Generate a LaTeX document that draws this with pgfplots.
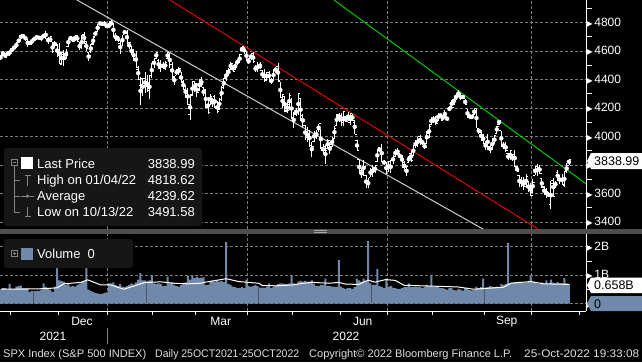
\documentclass[border=0pt]{standalone}
\usepackage{pgfplots}
\pgfplotsset{compat=1.18}
\usepackage{pgfplotstable}
\usepackage{graphicx}
\usepackage{fontspec}
\setmainfont{Liberation Sans}
\newfontfamily\dejavu{DejaVu Sans}
\definecolor{volblue}{RGB}{112,136,170}
\definecolor{gridgray}{RGB}{125,125,125}
\definecolor{legbg}{RGB}{22,22,22}
\definecolor{sepgray}{RGB}{78,78,78}
\definecolor{trwhite}{RGB}{205,205,205}
\definecolor{trred}{RGB}{220,0,0}
\definecolor{trgreen}{RGB}{0,200,0}
\definecolor{icongray}{RGB}{130,130,130}
\newcommand{\tri}{{\dejavu\fontsize{8}{8}\selectfont ▶}\hspace{1.5pt}}
\pgfplotstableread{
o h l c v
4553.7 4572.6 4537.4 4566.5 0.50
4578.7 4598.5 4569.2 4574.8 0.55
4580.2 4584.6 4551.7 4551.7 0.55
4562.8 4597.6 4562.8 4596.4 0.50
4572.9 4608.1 4567.6 4605.4 0.70
4610.6 4620.3 4595.1 4613.7 0.52
4613.3 4635.2 4613.3 4630.7 0.52
4630.7 4663.5 4621.2 4660.6 0.60
4662.9 4683.0 4662.6 4680.1 0.62
4699.3 4718.5 4681.3 4697.5 0.64
4701.5 4714.9 4694.4 4701.7 0.55
4707.3 4708.5 4670.9 4685.3 0.55
4670.3 4684.9 4630.9 4646.7 0.56
4659.4 4664.6 4648.3 4649.3 0.42
4655.2 4688.5 4650.8 4682.9 0.45
4689.3 4697.4 4672.9 4682.8 0.44
4679.4 4714.9 4679.4 4700.9 0.45
4701.5 4701.5 4684.4 4688.7 0.45
4700.7 4708.8 4672.8 4704.5 0.50
4708.4 4717.8 4694.2 4698.0 0.72
4712.0 4743.8 4682.2 4682.9 0.58
4678.5 4699.4 4652.7 4690.7 0.56
4675.8 4702.9 4659.9 4701.5 0.50
4664.6 4664.6 4585.4 4594.6 0.42
4628.8 4672.9 4625.3 4655.3 0.60
4640.3 4646.0 4560.0 4567.0 1.58
4602.8 4652.9 4510.3 4513.0 0.82
4504.7 4595.5 4504.7 4577.1 0.80
4589.5 4608.0 4495.1 4538.4 0.78
4548.4 4612.6 4540.5 4591.7 0.66
4631.0 4694.0 4631.0 4686.8 0.70
4690.9 4705.1 4674.5 4701.2 0.60
4691.0 4695.3 4665.9 4667.5 0.62
4687.6 4713.6 4670.2 4712.0 0.60
4710.3 4710.3 4667.6 4669.0 0.66
4642.0 4660.5 4606.5 4634.1 0.70
4636.5 4712.6 4611.2 4709.9 0.76
4719.1 4731.9 4651.9 4668.7 0.80
4652.5 4672.0 4597.6 4620.6 2.14
4587.9 4591.3 4531.1 4568.0 0.50
4594.9 4651.1 4583.2 4649.2 0.45
4650.4 4697.7 4645.5 4696.6 0.42
4703.1 4740.7 4703.1 4725.8 0.38
4734.0 4791.5 4734.0 4791.2 0.36
4795.5 4807.0 4780.0 4786.4 0.35
4788.6 4804.1 4778.1 4793.1 0.35
4794.2 4808.9 4775.3 4778.7 0.38
4775.2 4786.8 4765.8 4766.2 0.40
4778.1 4796.6 4758.2 4796.6 0.72
4804.5 4818.6 4774.3 4793.5 0.72
4788.0 4797.7 4699.4 4700.6 0.75
4693.4 4725.0 4671.3 4696.1 0.66
4697.7 4707.9 4663.0 4677.0 0.62
4655.3 4673.0 4582.2 4670.3 0.70
4669.1 4714.1 4638.3 4713.1 0.60
4728.6 4749.0 4716.1 4726.4 0.58
4733.6 4744.1 4650.3 4659.0 0.62
4638.0 4665.1 4614.8 4662.9 0.66
4632.2 4632.2 4568.7 4577.1 0.72
4588.0 4611.6 4530.2 4532.8 0.68
4547.4 4602.1 4478.0 4482.7 0.75
4471.4 4494.5 4395.3 4397.9 0.85
4356.3 4417.4 4222.6 4410.1 1.08
4366.6 4411.0 4287.1 4356.5 0.82
4408.4 4453.2 4304.8 4349.9 0.82
4380.6 4428.7 4309.5 4326.5 0.80
4336.2 4432.7 4264.7 4431.9 0.82
4431.8 4516.9 4414.0 4515.6 1.00
4519.6 4550.5 4484.0 4546.5 0.72
4566.4 4595.3 4544.3 4589.4 0.70
4535.4 4542.9 4470.4 4477.4 0.72
4482.8 4540.0 4451.5 4500.5 0.70
4505.8 4521.9 4471.5 4483.9 0.62
4480.0 4531.3 4465.4 4521.5 0.63
4547.0 4590.0 4547.0 4587.2 0.95
4553.2 4588.9 4484.3 4504.1 0.72
4506.3 4526.3 4401.4 4418.6 0.75
4412.6 4426.2 4364.8 4401.7 0.65
4429.3 4472.8 4429.3 4471.1 0.62
4455.8 4489.5 4429.7 4475.0 0.60
4456.1 4456.1 4373.8 4380.3 0.65
4384.6 4394.6 4327.2 4348.9 0.70
4332.7 4362.1 4267.1 4304.8 0.75
4324.9 4341.5 4221.5 4225.5 0.98
4155.8 4294.7 4114.7 4288.7 0.85
4298.4 4385.3 4286.8 4384.7 1.00
4354.2 4388.8 4315.1 4373.9 0.90
4363.1 4378.5 4279.5 4306.3 0.95
4322.6 4401.5 4322.6 4386.5 0.90
4401.3 4416.8 4345.6 4363.5 0.92
4342.1 4342.1 4285.0 4328.9 0.93
4327.0 4327.0 4199.9 4201.1 0.66
4202.7 4276.9 4157.9 4170.7 0.66
4223.1 4299.4 4223.1 4277.9 0.80
4252.6 4268.3 4209.8 4259.5 0.80
4279.5 4291.0 4200.5 4204.3 0.78
4202.8 4247.6 4161.7 4173.1 0.80
4188.8 4271.1 4187.9 4262.5 0.78
4288.1 4358.0 4252.0 4357.9 0.80
4345.1 4412.7 4335.7 4411.7 0.76
4407.3 4465.4 4390.6 4463.1 2.17
4462.4 4481.8 4424.3 4461.2 0.70
4469.1 4522.0 4469.1 4511.6 0.66
4493.1 4501.1 4455.8 4456.2 0.60
4470.0 4520.6 4465.2 4520.2 0.58
4522.7 4546.0 4501.1 4543.1 0.55
4541.1 4575.7 4517.7 4575.5 0.55
4602.9 4637.3 4589.7 4631.6 0.58
4624.2 4627.8 4581.3 4602.5 0.55
4599.0 4603.1 4530.4 4530.4 0.85
4540.3 4548.7 4507.6 4545.9 0.62
4548.0 4583.5 4539.2 4582.6 0.60
4572.5 4593.5 4514.2 4525.1 0.62
4494.2 4503.9 4450.0 4481.2 0.66
4474.7 4521.2 4450.3 4500.2 0.62
4494.2 4520.4 4474.6 4488.3 0.57
4462.6 4464.3 4408.4 4412.5 0.57
4437.6 4471.0 4381.3 4397.5 0.56
4394.3 4453.9 4392.7 4446.6 0.60
4449.1 4460.5 4390.8 4392.6 0.72
4385.6 4410.3 4370.3 4391.7 0.56
4390.6 4471.0 4390.6 4462.2 0.60
4472.3 4488.3 4448.8 4459.5 0.64
4489.2 4512.9 4384.5 4393.7 0.70
4385.8 4385.8 4267.6 4271.8 0.72
4255.3 4299.0 4200.8 4296.1 0.72
4278.1 4278.1 4175.0 4175.2 0.70
4186.5 4240.7 4162.9 4184.0 0.70
4222.6 4308.5 4188.6 4287.5 0.72
4253.8 4269.7 4124.3 4131.9 0.98
4130.6 4169.8 4062.5 4155.4 0.72
4159.8 4200.1 4147.1 4175.5 0.70
4181.2 4307.7 4148.9 4300.2 0.78
4270.4 4270.4 4106.0 4146.9 0.80
4128.2 4157.7 4067.9 4123.3 0.78
4081.3 4081.3 3975.5 3991.2 0.80
4035.2 4068.8 3958.2 4001.1 0.78
3990.1 4049.1 3928.8 3935.2 0.78
3903.9 3964.8 3858.9 3930.1 0.82
3963.9 4038.9 3963.9 4023.9 0.70
4013.0 4046.5 3984.0 4008.0 0.62
4052.0 4090.7 4033.9 4088.9 0.62
4052.0 4052.0 3911.9 3923.7 0.66
3899.0 3946.0 3876.6 3900.8 0.66
3927.8 3943.4 3810.3 3901.4 0.88
3919.4 3981.9 3909.0 3973.8 0.62
3942.9 3955.7 3875.1 3941.5 0.62
3929.6 3999.3 3925.0 3978.7 0.60
3984.6 4075.1 3984.6 4057.8 0.60
4077.4 4158.5 4077.4 4158.2 0.58
4151.1 4168.3 4104.9 4132.2 1.53
4149.8 4166.5 4073.9 4101.2 0.60
4095.4 4177.5 4074.4 4176.8 0.56
4137.6 4142.7 4098.7 4108.5 0.52
4134.7 4168.8 4109.2 4121.4 0.55
4096.5 4164.9 4080.2 4160.7 0.55
4147.1 4160.1 4107.2 4115.8 0.52
4101.7 4119.1 4017.2 4017.8 0.58
3974.4 3974.4 3900.2 3900.9 0.88
3838.2 3838.2 3734.3 3749.6 0.82
3763.5 3778.2 3705.7 3735.5 0.78
3764.0 3837.6 3722.3 3790.0 0.88
3728.2 3728.2 3639.8 3666.8 0.80
3665.9 3707.7 3636.9 3674.8 2.20
3715.3 3779.7 3715.3 3764.8 0.72
3733.9 3801.8 3717.7 3759.9 0.66
3774.7 3802.6 3743.5 3795.7 0.66
3821.8 3913.7 3821.8 3911.7 1.23
3920.8 3927.7 3889.7 3900.1 0.62
3913.0 3945.9 3820.1 3821.6 0.58
3825.1 3836.5 3799.0 3818.8 0.55
3786.0 3819.0 3738.7 3785.4 0.88
3781.0 3829.8 3752.1 3825.3 0.60
3792.6 3832.2 3742.1 3831.4 0.62
3832.0 3870.9 3809.4 3845.1 0.57
3858.9 3910.6 3858.9 3902.6 0.55
3888.3 3918.5 3869.3 3899.4 0.52
3880.9 3880.9 3847.2 3854.4 0.52
3852.0 3873.4 3802.4 3818.8 0.55
3779.7 3829.4 3759.1 3801.8 0.58
3764.0 3796.4 3721.6 3790.4 0.58
3818.0 3863.6 3817.2 3863.2 0.72
3883.8 3902.4 3818.6 3830.9 0.58
3860.7 3939.8 3860.7 3936.7 0.58
3935.3 3974.1 3922.0 3959.9 0.60
3955.5 3999.3 3927.6 3999.0 0.58
3998.4 4012.4 3938.9 3961.6 0.58
3965.7 3975.3 3943.5 3966.8 0.55
3953.2 3953.2 3910.7 3921.1 0.60
3951.4 4039.6 3951.4 4023.6 0.66
4026.1 4078.9 3993.0 4072.4 0.62
4087.3 4140.2 4079.2 4130.3 1.02
4112.4 4145.0 4096.0 4118.6 0.60
4104.2 4140.5 4079.8 4091.2 0.60
4108.0 4167.7 4108.0 4155.2 0.60
4154.9 4161.3 4135.4 4151.9 0.55
4115.9 4151.6 4107.3 4145.2 0.55
4155.9 4186.6 4129.0 4140.1 0.52
4133.1 4137.3 4112.1 4122.5 0.50
4181.0 4211.0 4177.3 4210.2 0.55
4227.4 4257.9 4201.4 4207.3 0.55
4225.0 4280.5 4219.8 4280.2 0.48
4269.4 4301.8 4256.9 4297.1 0.47
4290.5 4325.3 4277.8 4305.2 0.52
4280.4 4302.2 4253.1 4274.0 0.50
4273.1 4292.5 4262.0 4283.7 0.46
4266.3 4266.3 4218.7 4228.5 0.55
4195.1 4195.1 4129.9 4138.0 0.52
4133.1 4159.8 4124.0 4128.7 0.48
4126.6 4156.6 4120.0 4140.8 0.47
4153.3 4200.5 4147.6 4199.1 0.48
4198.7 4203.0 4057.7 4057.7 0.60
4034.6 4063.0 4017.4 4030.6 0.55
4041.3 4045.0 3965.2 3986.2 0.58
4000.7 4015.4 3954.5 3955.0 0.88
3936.7 3970.2 3903.7 3966.9 0.57
3994.7 4018.4 3906.2 3924.3 0.58
3930.9 3942.6 3886.8 3908.2 0.62
3909.4 3987.9 3906.0 3979.9 0.60
3959.9 4010.5 3944.8 4006.2 0.58
4022.9 4076.8 4022.9 4067.4 0.60
4083.7 4119.3 4083.7 4110.4 0.56
4041.3 4041.3 3932.7 3932.7 0.70
3940.7 3961.9 3912.2 3946.0 0.66
3932.4 3959.1 3888.3 3901.4 0.70
3881.0 3881.0 3837.1 3873.3 2.14
3849.9 3900.5 3838.5 3899.9 0.72
3875.2 3876.0 3827.5 3855.9 0.74
3871.4 3907.1 3789.5 3789.9 0.76
3782.4 3790.7 3749.4 3758.0 0.75
3727.1 3727.1 3647.5 3693.2 0.78
3682.7 3715.7 3644.8 3655.0 0.74
3686.4 3717.5 3623.3 3647.3 0.74
3651.9 3736.7 3640.6 3719.0 0.75
3687.0 3687.0 3610.4 3640.5 0.76
3633.5 3671.4 3584.1 3585.6 1.02
3609.8 3698.4 3604.9 3678.4 0.76
3726.5 3791.9 3726.5 3790.9 0.76
3753.3 3806.9 3722.7 3783.3 0.72
3772.0 3797.9 3739.2 3744.5 0.70
3706.7 3706.7 3636.0 3639.7 0.74
3647.5 3652.2 3588.1 3612.4 0.70
3595.9 3640.7 3568.5 3588.8 0.82
3590.8 3608.3 3573.9 3577.0 0.72
3520.4 3685.4 3491.6 3669.9 0.85
3690.4 3712.0 3579.7 3583.1 0.74
3638.7 3689.7 3638.7 3678.0 0.72
3746.3 3762.8 3686.5 3720.0 0.76
3703.1 3728.6 3666.5 3695.2 0.72
3689.1 3736.0 3656.4 3665.8 0.72
3657.1 3757.9 3647.4 3752.8 0.90
3762.0 3810.7 3741.7 3797.3 0.72
3799.4 3845.0 3799.4 3839.0 0.70
}\ohlc
\begin{document}
\begin{tikzpicture}[x=1pt,y=1pt]
\fill[black] (0,0) rectangle (642,362);
% ---------------- price panel
\begin{axis}[at={(0pt,133pt)}, anchor=south west, scale only axis,
  width=586pt, height=229pt,
  xmin=-0.3, xmax=259.57, ymin=3351, ymax=4958,
  axis x line*=bottom, axis y line*=right,
  x axis line style={draw=none},
  y axis line style={white, line width=1pt},
  xtick={47.5,109.5,171.5,235.5}, xticklabels={}, xmajorgrids,
  xtick style={draw=none},
  ytick={3400,3600,3800,4000,4200,4400,4600,4800},
  minor ytick={3500,3700,3900,4100,4300,4500,4700,4900},
  ymajorgrids,
  grid style={dash pattern=on 3pt off 2pt, color=gridgray, line width=0.8pt},
  tick align=outside, major tick length=0pt, minor tick length=6pt,
  ytick style={white, line width=1pt},
  yticklabel pos=right,
  yticklabels={{\tri 3400},{\tri 3600},{\tri 3800},{\tri 4000},{\tri 4200},{\tri 4400},{\tri 4600},{\tri 4800}},
  yticklabel style={font=\fontsize{12}{12}\selectfont, text=white, anchor=west, inner sep=0pt, xshift=0.5pt},
]
\addplot[trwhite, line width=1pt] coordinates {(33.8,4958) (214.3,3347)};
\addplot[trred, line width=1pt] coordinates {(75.1,4958) (238.3,3351)};
\addplot[trgreen, line width=1pt] coordinates {(147.8,4958) (259.6,3668)};
\addplot[white, only marks, mark=none,
  error bars/.cd, y dir=both, y explicit, error mark=none,
  error bar style={white, line width=0.85pt}]
  table[x expr=\coordindex, y expr={(\thisrow{h}+\thisrow{l})/2}, y error expr={(\thisrow{h}-\thisrow{l})/2}] {\ohlc};
\addplot[only marks, mark=-, mark size=0.9pt, mark options={white, line width=0.85pt}]
  table[x expr=\coordindex-0.45, y=o] {\ohlc};
\addplot[only marks, mark=-, mark size=0.9pt, mark options={white, line width=0.85pt}]
  table[x expr=\coordindex+0.45, y=c] {\ohlc};
\end{axis}
% ---------------- volume panel
\begin{axis}[at={(0pt,51pt)}, anchor=south west, scale only axis,
  width=586pt, height=77pt,
  xmin=-0.3, xmax=259.57, ymin=-0.257, ymax=2.454,
  axis x line*=bottom, axis y line*=right,
  axis line style={white, line width=1pt},
  xtick={4.5,25.5,47.5,67.5,86.5,109.5,129.5,150.5,171.5,191.5,214.5,235.5,256.5},
  xticklabels={},
  extra x ticks={47.5,109.5,171.5,235.5}, extra x tick labels={},
  extra x tick style={xmajorgrids=true},
  xtick style={white, line width=1pt},
  ytick={0,1,2}, minor ytick={0.5,1.5}, ymajorgrids,
  grid style={dash pattern=on 3pt off 2pt, color=gridgray, line width=0.8pt},
  tick align=outside, major tick length=4pt, minor tick length=6pt,
  ytick style={white, line width=1pt},
  yticklabel pos=right,
  yticklabels={{\tri 0},{\tri 1B},{\tri 2B}},
  yticklabel style={font=\fontsize{12}{12}\selectfont, text=white, anchor=west, inner sep=0pt, xshift=-3.5pt},
]
\addplot[ybar, bar width=2pt, bar shift=0pt, fill=volblue, draw=none]
  table[x expr=\coordindex, y=v] {\ohlc};
\addplot[white, line width=1pt] coordinates {
(0,0.51) (7,0.51) (20,0.53) (25,0.56) (28,0.70) (35.5,0.75) (38.6,0.84)
(44.4,0.66) (48.8,0.66) (54.6,0.51) (59,0.62) (63.5,0.74) (71,0.77)
(76.8,0.72) (83,0.70) (88.7,0.72) (91,0.76) (100,0.88) (105.6,0.78)
(114.5,0.72) (116,0.64) (122,0.63) (129.5,0.66) (134,0.72) (138.4,0.75)
(145.5,0.72) (150,0.75) (153,0.69) (158.8,0.68) (163,0.83) (166,0.76)
(170.8,0.85) (175,0.82) (178.8,0.65) (190.7,0.62) (202.7,0.59)
(209.8,0.51) (217.3,0.55) (223,0.58) (226.2,0.72) (235,0.78)
(240.8,0.70) (252,0.68)};
\end{axis}
% ---------------- separator
\fill[sepgray] (0,128.5) rectangle (642,133);
\draw[gray!70, line width=0.6pt] (314,131.6) -- (327,131.6) (314,129.8) -- (327,129.8);
% ---------------- price legend
\fill[legbg, rounded corners=3pt] (4,136) rectangle (202,214);
\draw[icongray, line width=0.7pt] (11,197) rectangle (17,203);
\draw[icongray, line width=0.7pt] (12.5,200) -- (15.5,200);
\draw[icongray, line width=0.7pt] (14,197) -- (14,150) -- (20,150) (14,182) -- (20,182) (14,166) -- (20,166);
\fill[white] (21,193) rectangle (33,205);
\draw[icongray, line width=1pt] (24.5,186.5) -- (30.5,186.5) (27.5,186.5) -- (27.5,176.5);
\draw[icongray, line width=1pt] (20.5,166) -- (34,166);
\fill[icongray] (27.3,166) circle (1.8);
\draw[icongray, line width=1pt] (24.5,145.5) -- (30.5,145.5) (27.5,145.5) -- (27.5,155.5);
\begin{scope}[every node/.style={text=white, inner sep=0pt, font=\fontsize{13}{13}\selectfont}]
\node[anchor=base west] at (37,193.5) {Last Price};
\node[anchor=base west] at (37,177.5) {High on 01/04/22};
\node[anchor=base west] at (37,161.5) {Average};
\node[anchor=base west] at (37,145.5) {Low on 10/13/22};
\node[anchor=base east] at (195,193.5) {3838.99};
\node[anchor=base east] at (195,177.5) {4818.62};
\node[anchor=base east] at (195,161.5) {4239.62};
\node[anchor=base east] at (195,145.5) {3491.58};
\end{scope}
% ---------------- volume legend
\fill[legbg, rounded corners=3pt] (4,94) rectangle (133,123);
\draw[icongray, line width=0.7pt] (11,105.3) rectangle (17,111.3);
\draw[icongray, line width=0.7pt] (12.5,108.3) -- (15.5,108.3) (14,106.8) -- (14,109.8);
\fill[volblue] (21,102.3) rectangle (33,114.3);
\node[anchor=base west, text=white, inner sep=0pt, font=\fontsize{13}{13}\selectfont] at (37,103.8) {Volume\hspace{7pt}0};
% ---------------- tags
\fill[white] (587,201) -- (591,209) -- (642,209) -- (642,193) -- (591,193) -- cycle;
\node[anchor=west, inner sep=0pt, text=black, font=\fontsize{12.5}{12.5}\selectfont] at (594,201) {3838.99};
\fill[white] (587,76.7) -- (591,84.5) -- (642,84.5) -- (642,69) -- (591,69) -- cycle;
\node[anchor=west, inner sep=0pt, text=black, font=\fontsize{12.5}{12.5}\selectfont] at (594,76.7) {0.658B};
\fill[volblue] (587,58.3) -- (591,66) -- (642,66) -- (642,51) -- (591,51) -- cycle;
\node[anchor=west, inner sep=0pt, text=black, font=\fontsize{12.5}{12.5}\selectfont] at (594,58.3) {0};
% ---------------- date labels
\begin{scope}[every node/.style={text=white, inner sep=0pt, font=\fontsize{12}{12}\selectfont}]
\node at (82,40.3) {Dec};
\node at (220.7,40.3) {Mar};
\node at (362.7,40.3) {Jun};
\node at (506.7,40.3) {Sep};
\node at (53,25.3) {2021};
\node at (346,25.3) {2022};
\end{scope}
\draw[gray, line width=0.8pt] (107,18) -- (107,34);
% ---------------- footer
\begin{scope}[every node/.style={text=white!88!black, inner sep=0pt, anchor=base west, font=\fontsize{11}{11}\selectfont}]
\node at (3,5) {\resizebox{143pt}{\height}{SPX Index (S\&P 500 INDEX)}};
\node at (155,5) {\resizebox{144pt}{\height}{Daily 25OCT2021-25OCT2022}};
\node at (309,5) {\resizebox{203pt}{\height}{Copyright© 2022 Bloomberg Finance L.P.}};
\node at (524,5) {\resizebox{115pt}{\height}{25-Oct-2022 19:33:08}};
\end{scope}
\pgfresetboundingbox
\path (0,0) rectangle (642,362);
\end{tikzpicture}
\end{document}
